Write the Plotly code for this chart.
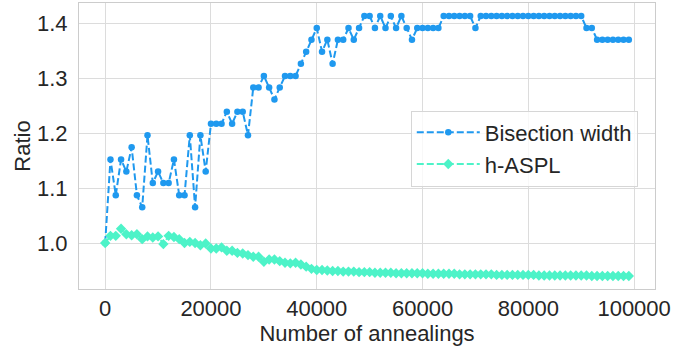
import plotly.graph_objects as go

annealings = [i * 1000 for i in range(100)]

bisection_width = [
    1.000, 1.152, 1.087, 1.152, 1.130, 1.174, 1.087, 1.065, 1.196, 1.109,
    1.130, 1.109, 1.109, 1.152, 1.087, 1.087, 1.196, 1.065, 1.196, 1.130,
    1.217, 1.217, 1.217, 1.239, 1.217, 1.239, 1.239, 1.196, 1.283, 1.283,
    1.304, 1.283, 1.261, 1.283, 1.304, 1.304, 1.304, 1.326, 1.348, 1.370,
    1.391, 1.348, 1.370, 1.326, 1.370, 1.370, 1.391, 1.370, 1.391, 1.413,
    1.413, 1.391, 1.413, 1.391, 1.413, 1.391, 1.413, 1.391, 1.370, 1.391,
    1.391, 1.391, 1.391, 1.391, 1.413, 1.413, 1.413, 1.413, 1.413, 1.413,
    1.391, 1.413, 1.413, 1.413, 1.413, 1.413, 1.413, 1.413, 1.413, 1.413,
    1.413, 1.413, 1.413, 1.413, 1.413, 1.413, 1.413, 1.413, 1.413, 1.413,
    1.413, 1.391, 1.391, 1.370, 1.370, 1.370, 1.370, 1.370, 1.370, 1.370,
]

h_aspl = [
    1.000, 1.013, 1.013, 1.026, 1.016, 1.014, 1.016, 1.007, 1.012, 1.010,
    1.012, 0.998, 1.013, 1.011, 1.007, 1.000, 1.002, 1.000, 0.996, 0.999,
    0.990, 0.990, 0.992, 0.986, 0.986, 0.982, 0.981, 0.978, 0.975, 0.975,
    0.966, 0.970, 0.970, 0.967, 0.964, 0.963, 0.964, 0.961, 0.957, 0.953,
    0.951, 0.951, 0.950, 0.949, 0.949, 0.948, 0.948, 0.948, 0.947, 0.947,
    0.947, 0.946, 0.946, 0.946, 0.946, 0.945, 0.945, 0.945, 0.945, 0.945,
    0.945, 0.944, 0.944, 0.944, 0.944, 0.944, 0.944, 0.943, 0.943, 0.943,
    0.943, 0.943, 0.943, 0.943, 0.942, 0.942, 0.942, 0.942, 0.942, 0.942,
    0.942, 0.942, 0.941, 0.941, 0.941, 0.941, 0.941, 0.941, 0.941, 0.941,
    0.941, 0.941, 0.940, 0.940, 0.940, 0.940, 0.940, 0.940, 0.940, 0.940,
]

x_ticks = [0, 20000, 40000, 60000, 80000, 100000]
y_ticks = [1.0, 1.1, 1.2, 1.3, 1.4]
y_tick_labels = ["1.0", "1.1", "1.2", "1.3", "1.4"]

BLUE = "#1f99ef"
TURQ = "#4df3c8"
FONT = "Liberation Sans, Arial, sans-serif"
TEXT = "#262626"

fig = go.Figure()
fig.add_trace(go.Scatter(
    x=annealings, y=bisection_width, name="Bisection width",
    mode="lines+markers",
    line=dict(color=BLUE, width=2, dash="7px,3px"),
    marker=dict(symbol="circle", size=6.5, color=BLUE),
))
fig.add_trace(go.Scatter(
    x=annealings, y=h_aspl, name="h-ASPL",
    mode="lines+markers",
    line=dict(color=TURQ, width=2, dash="7px,3px"),
    marker=dict(symbol="diamond", size=8, color=TURQ),
))

fig.update_layout(
    width=697, height=348,
    margin=dict(l=79, r=42, t=3, b=59, autoexpand=False),
    paper_bgcolor="white", plot_bgcolor="white",
    font=dict(family=FONT, size=22, color=TEXT),
    showlegend=True,
    legend=dict(
        x=0.576, y=0.491, xanchor="left", yanchor="middle",
        bgcolor="rgba(255,255,255,0.8)", bordercolor="#d6d6d6", borderwidth=1,
        font=dict(family=FONT, size=22, color=TEXT),
        itemwidth=63,
    ),
    xaxis=dict(
        range=[-4950, 103950], automargin=False,
        tickvals=x_ticks, ticktext=[str(v) for v in x_ticks],
        showgrid=True, gridcolor="#dcdcdc", gridwidth=1,
        zeroline=False, showline=True, linecolor="#cccccc", linewidth=1, mirror=True,
        ticks="", ticklabelstandoff=0,
        title=dict(text="Number of annealings", standoff=0,
                   font=dict(family=FONT, size=22, color=TEXT)),
        tickfont=dict(family=FONT, size=22, color=TEXT),
    ),
    yaxis=dict(
        range=[0.9163, 1.4367], automargin=False,
        tickvals=y_ticks, ticktext=y_tick_labels,
        showgrid=True, gridcolor="#dcdcdc", gridwidth=1,
        zeroline=False, showline=True, linecolor="#cccccc", linewidth=1, mirror=True,
        ticks="", ticklabelstandoff=6,
        title=dict(text="Ratio", standoff=0,
                   font=dict(family=FONT, size=22, color=TEXT)),
        tickfont=dict(family=FONT, size=22, color=TEXT),
    ),
)

fig.write_html("out.html",
               config={"displayModeBar": False},
               post_script="document.body.style.margin='0px';document.body.style.overflow='hidden';")
